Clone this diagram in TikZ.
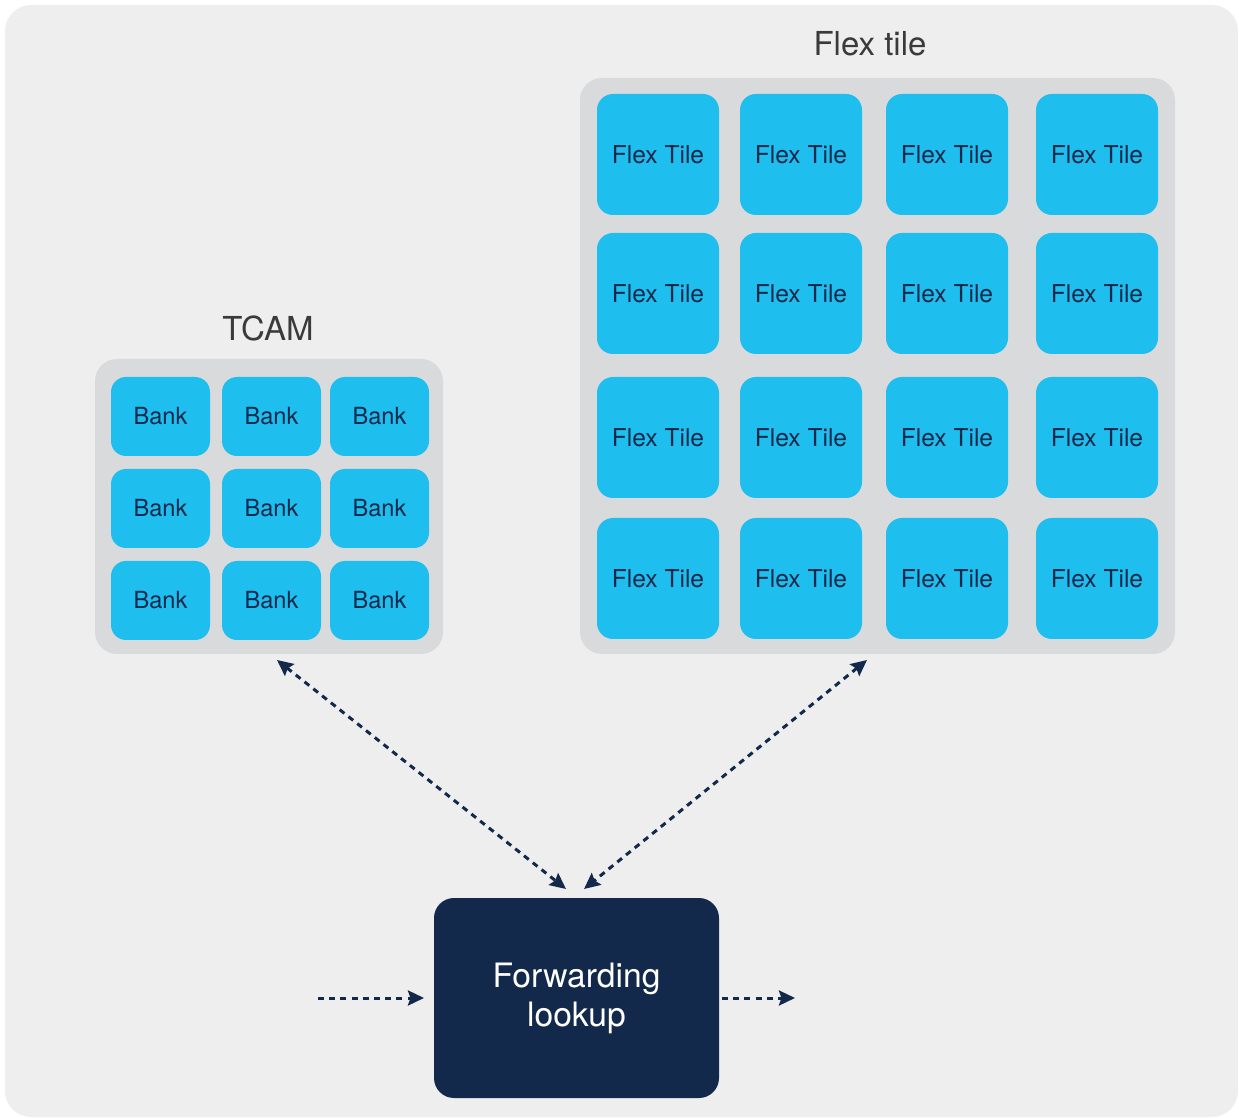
\documentclass[tikz,border=0pt]{standalone}
\usepackage{fontspec}
\setmainfont{TeX Gyre Heros}
\usetikzlibrary{arrows.meta}
\definecolor{bgc}{HTML}{EEEEEE}
\definecolor{contc}{HTML}{D9DADC}
\definecolor{tilec}{HTML}{1EBEEE}
\definecolor{navy}{HTML}{13294B}
\definecolor{titlec}{HTML}{3A3A3A}
\tikzset{
  container/.style={fill=contc, draw=none, rounded corners=11pt},
  banktile/.style={fill=tilec, draw=none, rounded corners=7.5pt, minimum width=49.5pt, minimum height=39.5pt, inner sep=0pt, text=navy, font=\fontsize{11.8pt}{14pt}\selectfont},
  flextile/.style={fill=tilec, draw=none, rounded corners=8pt, minimum width=61pt, minimum height=60.5pt, inner sep=0pt, text=navy, font=\fontsize{12.3pt}{14pt}\selectfont},
  titletext/.style={text=titlec, font=\fontsize{16.5pt}{19pt}\selectfont, inner sep=0pt},
  fwdbox/.style={fill=navy, draw=none, rounded corners=10pt, minimum width=142.5pt, minimum height=100pt, inner sep=0pt, text=white, align=center, font=\fontsize{16.8pt}{19.5pt}\selectfont},
  conn/.style={draw=navy, line width=1.5pt, dash pattern=on 3pt off 2.6pt, >={Stealth[length=8pt,width=7.5pt,inset=1.2pt]}},
}
\begin{document}
\begin{tikzpicture}[x=0.5pt,y=-0.5pt]
\useasboundingbox (0,0) rectangle (1239,1118);
% background
\fill[bgc, rounded corners=13pt] (5,5) rectangle (1238,1117);
% containers
\node[container, minimum width=174pt, minimum height=147.5pt, inner sep=0pt] (tcambox) at (269,506.5) {};
\node[container, minimum width=297.5pt, minimum height=288pt, inner sep=0pt] (flexbox) at (877.5,366) {};
% titles
\node[titletext] (tcamtitle) at (268,328) {TCAM};
\node[titletext] (flextitle) at (870,44) {Flex tile};
% banks
\foreach \c/\x in {1/160.5,2/271.5,3/379.5}{
  \foreach \r/\y in {1/416.5,2/508.5,3/600.5}{
    \node[banktile] (bank\r\c) at (\x,\y) {Bank};
  }
}
% flex tiles
\foreach \c/\x in {1/658,2/801,3/947,4/1097}{
  \foreach \r/\y in {1/154.5,2/293.5,3/437.5,4/578.5}{
    \node[flextile] (flex\r\c) at (\x,\y) {Flex Tile};
  }
}
% forwarding lookup
\node[fwdbox] (fwd) at (576.5,998) {Forwarding\\lookup};
% connector endpoints
\coordinate (tcamend) at (277,660);
\coordinate (flexend) at (867,660);
\coordinate (fwdl) at (566,889);
\coordinate (fwdr) at (584,889);
\coordinate (instart) at (318,998);
\coordinate (inend) at (424,998);
\coordinate (outstart) at (722,998);
\coordinate (outend) at (795,998);
% connectors
\draw[conn,<->] (tcamend) -- (fwdl);
\draw[conn,<->] (flexend) -- (fwdr);
\draw[conn,->] (instart) -- (inend);
\draw[conn,->] (outstart) -- (outend);
\end{tikzpicture}
\end{document}
